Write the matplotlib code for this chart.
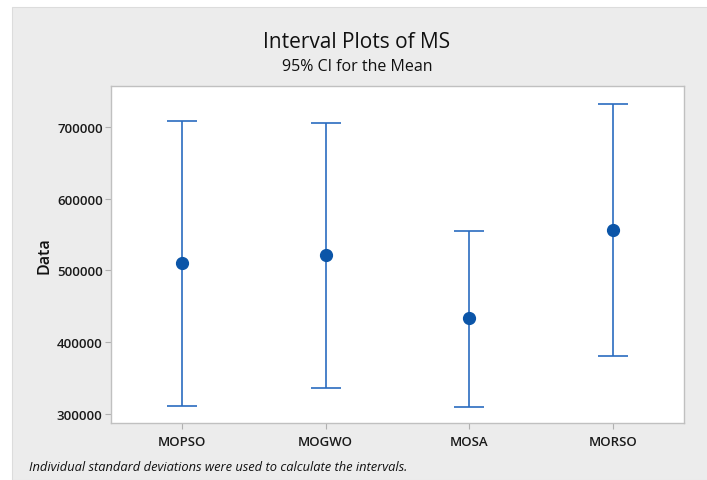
import matplotlib.pyplot as plt
from matplotlib.patches import Rectangle

# Interval plot values (95% CI for the mean)
algorithms = ['MOPSO', 'MOGWO', 'MOSA', 'MORSO']
means = [510500, 521500, 433800, 556400]
ci_lower = [311200, 336200, 309900, 380800]
ci_upper = [708400, 705600, 555000, 732000]
y_ticks = [300000, 400000, 500000, 600000, 700000]

plt.rcParams['font.family'] = ['Open Sans', 'DejaVu Sans']

fig = plt.figure(figsize=(7.07, 4.81), dpi=100)
fig.patch.set_facecolor('white')
fig.patches.append(Rectangle((12 / 707, 0), 1, 1 - 8 / 481, transform=fig.transFigure,
                             facecolor='#ececec', edgecolor='#dcdcdc', lw=0.8, zorder=-5))

ax = fig.add_axes([111 / 707, 1 - 424 / 481, (684 - 111) / 707, (424 - 87) / 481])
ax.set_facecolor('white')
ax.set_zorder(2)

xs = list(range(1, len(algorithms) + 1))
err_low = [m - lo for m, lo in zip(means, ci_lower)]
err_high = [hi - m for m, hi in zip(means, ci_upper)]
ax.errorbar(xs, means, yerr=[err_low, err_high], fmt='o', color='#0b55a8',
            ecolor='#2a6cc0', elinewidth=1.2, capsize=10.5, capthick=1.2,
            markersize=8.5, zorder=3)

ax.set_xlim(0.505, 4.495)
ax.set_ylim(287500, 757000)
ax.set_xticks(xs)
ax.set_xticklabels(algorithms, fontsize=9.5, fontweight='semibold', color='#1a1a1a')
ax.set_yticks(y_ticks)
ax.set_yticklabels([str(v) for v in y_ticks], fontsize=9.5, fontweight='semibold', color='#1a1a1a')
ax.tick_params(length=4, color='#b0b0b0', pad=2)
ax.tick_params(axis='x', pad=5)
ax.set_ylabel('Data', fontsize=11.5, fontweight='semibold', color='#111111', labelpad=3)
for s in ax.spines.values():
    s.set_color('#c0c0c0')
    s.set_linewidth(1.0)

fig.text(0.505, 1 - 42 / 481, 'Interval Plots of MS', ha='center', va='center',
         fontsize=15, fontweight='medium', color='#111111')
fig.text(0.505, 1 - 67 / 481, '95% CI for the Mean', ha='center', va='center',
         fontsize=11.5, fontweight='medium', color='#111111')
fig.text(29 / 707, 1 - 468 / 481, 'Individual standard deviations were used to calculate the intervals.',
         ha='left', va='center', fontsize=9.3, style='italic', color='#111111')

fig.savefig('out.png', dpi=100, facecolor=fig.get_facecolor())
